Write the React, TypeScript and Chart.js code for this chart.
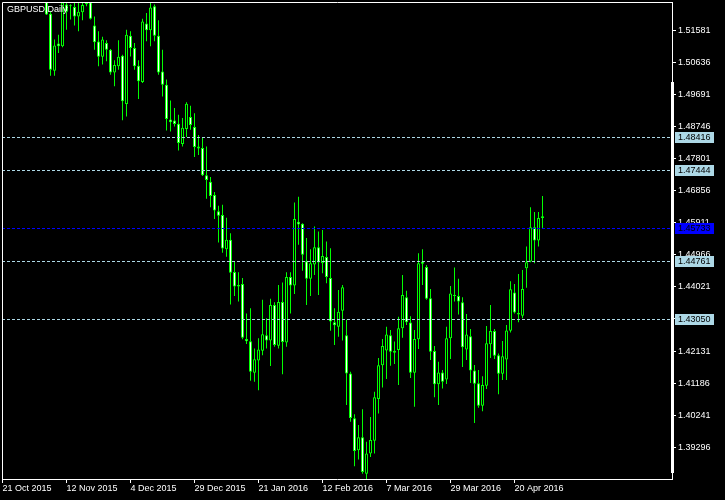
import React, { useEffect, useRef } from "react";
import { Chart, registerables } from "chart.js";

Chart.register(...registerables);

// ---------- DATA ----------
const chartTitle = "GBPUSD,Daily";

// Trading-day index of each bottom tick and its label
const xTickIndex = [0, 16, 32, 48, 64, 80, 96, 112, 128];
const xTickLabels = [
  "21 Oct 2015",
  "12 Nov 2015",
  "4 Dec 2015",
  "29 Dec 2015",
  "21 Jan 2016",
  "12 Feb 2016",
  "7 Mar 2016",
  "29 Mar 2016",
  "20 Apr 2016",
];

const yTickValues = [
  1.39296, 1.40241, 1.41186, 1.42131, 1.43076, 1.44021, 1.44966, 1.45911,
  1.46856, 1.47801, 1.48746, 1.49691, 1.50636, 1.51581,
];

// Daily OHLC, index 0 = 21 Oct 2015 (first 11 days lie above the visible range)
const N0 = [null, null, null, null, null, null, null, null, null, null, null];
const opens: (number | null)[] = [
  ...N0,
  1.5255, 1.5207, 1.5039, 1.5119, 1.5111, 1.5234, 1.5229, 1.5227, 1.5199,
  1.5211, 1.5235, 1.5241, 1.5172, 1.5125, 1.508, 1.5121, 1.5101, 1.5034, 1.5052,
  1.5083, 1.4941, 1.5142, 1.5106, 1.5054, 1.5006, 1.5178, 1.5158, 1.5229, 1.5142,
  1.5037, 1.4998, 1.4895, 1.4892, 1.4883, 1.4823, 1.4867, 1.4903, 1.4873, 1.4816,
  1.4811, 1.4731, 1.4712, 1.4673, 1.4625, 1.4614, 1.4513, 1.4541, 1.4446, 1.4408,
  1.4411, 1.4249, 1.4242, 1.4149, 1.4185, 1.4214, 1.426, 1.4244, 1.4349, 1.4229,
  1.4358, 1.4238, 1.4431, 1.4406, 1.4594, 1.4588, 1.4478, 1.4426, 1.4468, 1.4519,
  1.4472, 1.449, 1.4428, 1.4298, 1.4285, 1.4332, 1.426, 1.4147, 1.4015, 1.3921,
  1.3959, 1.3852, 1.3911, 1.3949, 1.4072, 1.4171, 1.4215, 1.426, 1.4214, 1.4216,
  1.428, 1.4372, 1.4297, 1.4149, 1.4248, 1.4477, 1.4461, 1.4369, 1.4213, 1.4115,
  1.415, 1.4129, 1.4251, 1.4378, 1.4375, 1.4357, 1.4218, 1.4257, 1.4156, 1.4118,
  1.4052, 1.4111, 1.4233, 1.4272, 1.4201, 1.4146, 1.4188, 1.4273, 1.4386, 1.4325,
  1.4317, 1.4457, 1.4477, 1.4578, 1.4539, 1.4605,
];
const highs: (number | null)[] = [
  ...N0,
  1.5263, 1.5213, 1.5131, 1.5145, 1.5252, 1.5243, 1.5235, 1.5239, 1.5239,
  1.5239, 1.5246, 1.5244, 1.5199, 1.5155, 1.5139, 1.5129, 1.5103, 1.507, 1.5129,
  1.5086, 1.516, 1.5155, 1.5121, 1.507, 1.5192, 1.5209, 1.5241, 1.5234, 1.5188,
  1.5101, 1.5013, 1.4951, 1.4929, 1.4909, 1.49, 1.4946, 1.4936, 1.4914, 1.485,
  1.4844, 1.4816, 1.4726, 1.4682, 1.4641, 1.4644, 1.4606, 1.456, 1.4477, 1.4445,
  1.4428, 1.4324, 1.4339, 1.4221, 1.4251, 1.4364, 1.431, 1.4367, 1.4357, 1.4408,
  1.4415, 1.4445, 1.4445, 1.4651, 1.4668, 1.459, 1.4546, 1.4513, 1.458, 1.4565,
  1.457, 1.4536, 1.4516, 1.4339, 1.4393, 1.4408, 1.4305, 1.4152, 1.4027, 1.3995,
  1.4042, 1.3946, 1.4019, 1.4093, 1.4193, 1.4249, 1.4285, 1.4275, 1.4241, 1.4314,
  1.4437, 1.4391, 1.4316, 1.4275, 1.4501, 1.4513, 1.4467, 1.4396, 1.4228, 1.4182,
  1.4157, 1.4285, 1.4405, 1.4459, 1.4426, 1.4372, 1.4322, 1.4278, 1.4172, 1.4157,
  1.4139, 1.4287, 1.4349, 1.4278, 1.4206, 1.4243, 1.429, 1.4419, 1.4411, 1.444,
  1.4452, 1.4521, 1.4637, 1.4623, 1.4623, 1.467,
];
const lows: (number | null)[] = [
  ...N0,
  1.5203, 1.5024, 1.5024, 1.5091, 1.5108, 1.516, 1.519, 1.5172, 1.5155,
  1.5188, 1.5229, 1.519, 1.5101, 1.5052, 1.5057, 1.5067, 1.5027, 1.4993, 1.5042,
  1.4893, 1.4904, 1.5081, 1.5042, 1.4956, 1.5003, 1.5126, 1.5111, 1.5126, 1.5027,
  1.4963, 1.4863, 1.486, 1.4875, 1.4804, 1.4816, 1.4844, 1.4865, 1.4785, 1.4791,
  1.4729, 1.4662, 1.4637, 1.4602, 1.4533, 1.4503, 1.4491, 1.435, 1.4375, 1.4359,
  1.4248, 1.4234, 1.4126, 1.4123, 1.4098, 1.4201, 1.4221, 1.4169, 1.4226, 1.4221,
  1.4145, 1.4226, 1.4324, 1.4381, 1.4526, 1.445, 1.4349, 1.4375, 1.4437, 1.4378,
  1.4442, 1.4413, 1.4273, 1.4231, 1.4255, 1.4244, 1.4054, 1.4005, 1.3874, 1.3894,
  1.3852, 1.3835, 1.3901, 1.3911, 1.4029, 1.4106, 1.4131, 1.417, 1.4175, 1.4113,
  1.4252, 1.429, 1.4134, 1.4049, 1.4219, 1.4408, 1.4364, 1.4187, 1.4077, 1.4054,
  1.4103, 1.4116, 1.419, 1.4359, 1.4321, 1.4166, 1.4187, 1.4119, 1.4001, 1.4046,
  1.4036, 1.4101, 1.4193, 1.419, 1.4086, 1.4128, 1.4128, 1.4268, 1.4324, 1.4298,
  1.431, 1.44, 1.4475, 1.4472, 1.4521, 1.4575,
];
const closes: (number | null)[] = [
  ...N0,
  1.5205, 1.5042, 1.5113, 1.5111, 1.524, 1.5213, 1.5231, 1.5199, 1.5213,
  1.5233, 1.5241, 1.5192, 1.5123, 1.508, 1.5131, 1.5101, 1.5034, 1.5056, 1.508,
  1.4949, 1.5145, 1.5106, 1.5052, 1.5008, 1.5184, 1.5158, 1.5225, 1.5142, 1.5034,
  1.4998, 1.4897, 1.4887, 1.4882, 1.4826, 1.4871, 1.4942, 1.4879, 1.4814, 1.481,
  1.4731, 1.4717, 1.467, 1.4627, 1.4612, 1.4515, 1.4541, 1.4444, 1.4403, 1.4403,
  1.4252, 1.4242, 1.4152, 1.4189, 1.4218, 1.4263, 1.4244, 1.4349, 1.4231, 1.4358,
  1.424, 1.4431, 1.4406, 1.4602, 1.4586, 1.4497, 1.4426, 1.4472, 1.4519, 1.4474,
  1.4493, 1.4431, 1.43, 1.4289, 1.4329, 1.4401, 1.4147, 1.4016, 1.3919, 1.3959,
  1.3857, 1.3911, 1.3951, 1.4077, 1.4171, 1.4228, 1.4262, 1.4211, 1.4208, 1.428,
  1.4378, 1.4298, 1.4149, 1.4249, 1.4472, 1.447, 1.4367, 1.4211, 1.4115, 1.415,
  1.4123, 1.4251, 1.4383, 1.4375, 1.4359, 1.4224, 1.4262, 1.4156, 1.4117, 1.4052,
  1.4113, 1.4236, 1.4272, 1.4199, 1.4146, 1.4198, 1.4274, 1.4395, 1.4327, 1.4321,
  1.4396, 1.4475, 1.4578, 1.4539, 1.4605, 1.461,
];

// Horizontal price levels
const levelLines = [1.48416, 1.47444, 1.44761, 1.4305];
const bidLine = 1.45733;

// ---------- STYLE ----------
const GREEN = "#00ff00";
const LEVEL_COLOR = "#add8e6";
const BID_COLOR = "#0000ff";
const FONT_FAMILY = "'Liberation Sans', Arial, sans-serif";
const FONT = { family: FONT_FAMILY, size: 9 };

export default function App() {
  const ref = useRef<HTMLCanvasElement | null>(null);

  useEffect(() => {
    document.body.style.margin = "0";
    document.body.style.background = "#000";
    const canvas = ref.current;
    if (!canvas) return;

    const idx = opens.map((_, i) => i).filter((i) => opens[i] != null);
    const wickData = idx.map((i) => ({ x: i, y: [lows[i] as number, highs[i] as number] }));
    const bodyData = idx.map((i) => {
      const o = opens[i] as number;
      const c = closes[i] as number;
      return { x: i, y: [Math.min(o, c), Math.max(o, c)] };
    });
    const bodyFill = idx.map((i) =>
      (closes[i] as number) < (opens[i] as number) ? "#ffffff" : "#000000"
    );

    const decor = {
      id: "mtDecor",
      beforeDraw(chart: any) {
        const ctx = chart.ctx;
        ctx.save();
        ctx.fillStyle = "#000";
        ctx.fillRect(0, 0, chart.width, chart.height);
        ctx.restore();
      },
      afterDatasetsDraw(chart: any) {
        const ctx = chart.ctx;
        const ys = chart.scales.y;
        const { left, right } = chart.chartArea;
        ctx.save();
        ctx.lineWidth = 1;
        ctx.setLineDash([3, 2]);
        const drawLine = (v: number, color: string) => {
          const y = Math.floor(ys.getPixelForValue(v)) + 0.5;
          ctx.strokeStyle = color;
          ctx.beginPath();
          ctx.moveTo(left, y);
          ctx.lineTo(right, y);
          ctx.stroke();
        };
        levelLines.forEach((v) => drawLine(v, LEVEL_COLOR));
        drawLine(bidLine, BID_COLOR);
        ctx.restore();
      },
      afterDraw(chart: any) {
        const ctx = chart.ctx;
        const ys = chart.scales.y;
        const { left, top, right, bottom } = chart.chartArea;
        ctx.save();
        // frame
        ctx.strokeStyle = "#ffffff";
        ctx.lineWidth = 1;
        ctx.setLineDash([]);
        ctx.beginPath();
        ctx.moveTo(left + 0.5, bottom);
        ctx.lineTo(left + 0.5, top + 0.5);
        ctx.lineTo(right + 0.5, top + 0.5);
        ctx.stroke();
        // thick marker on right edge
        ctx.fillStyle = "#ffffff";
        ctx.fillRect(right - 1, 82, 3, 391);
        // level labels
        ctx.font = `9px ${FONT_FAMILY}`;
        ctx.textBaseline = "middle";
        ctx.textAlign = "left";
        const drawLabel = (v: number, bg: string) => {
          const row = Math.floor(ys.getPixelForValue(v));
          ctx.fillStyle = bg;
          ctx.fillRect(right + 3, row - 5, 39, 11);
          ctx.fillStyle = "#000000";
          ctx.fillText(v.toFixed(5), right + 6, row + 1);
        };
        levelLines.forEach((v) => drawLabel(v, LEVEL_COLOR));
        drawLabel(bidLine, BID_COLOR);
        // title
        ctx.fillStyle = "#ffffff";
        ctx.fillText(chartTitle, 7, 10);
        ctx.restore();
      },
    };

    const chart = new Chart(canvas, {
      type: "bar",
      data: {
        datasets: [
          {
            label: "wick",
            data: wickData as any,
            backgroundColor: GREEN,
            borderWidth: 0,
            barThickness: 1,
            grouped: false,
            inflateAmount: 0,
            minBarLength: 1,
            order: 2,
          } as any,
          {
            label: "body",
            data: bodyData as any,
            backgroundColor: bodyFill,
            borderColor: GREEN,
            borderWidth: 1,
            borderSkipped: false,
            barThickness: 3,
            grouped: false,
            inflateAmount: 0,
            minBarLength: 1,
            order: 1,
          } as any,
        ],
      },
      options: {
        responsive: false,
        maintainAspectRatio: false,
        animation: false,
        events: [],
        layout: { padding: { left: 2, top: 2, right: 0, bottom: 0 } },
        plugins: {
          legend: { display: false },
          tooltip: { enabled: false },
          title: { display: false },
        },
        scales: {
          x: {
            type: "linear",
            position: "bottom",
            min: -0.125,
            max: 167.375,
            offset: false,
            grid: {
              display: true,
              offset: false,
              drawOnChartArea: false,
              drawTicks: true,
              tickLength: 4,
              color: "#ffffff",
              lineWidth: 1,
            },
            border: { display: true, color: "#ffffff", width: 1 },
            ticks: {
              color: "#ffffff",
              font: FONT,
              padding: 0,
              align: "start",
              autoSkip: false,
              maxRotation: 0,
              minRotation: 0,
              callback: (v: any) => {
                const k = xTickIndex.indexOf(Number(v));
                return k >= 0 ? xTickLabels[k] : "";
              },
            },
            afterBuildTicks: (s: any) => {
              s.ticks = xTickIndex.map((v) => ({ value: v }));
            },
            afterFit: (s: any) => {
              s.height = 21;
              s.paddingLeft = 0;
              s.paddingRight = 0;
              s.paddingTop = 0;
              s.paddingBottom = 0;
            },
          } as any,
          y: {
            type: "linear",
            position: "right",
            min: 1.383621,
            max: 1.524147,
            grid: {
              display: true,
              drawOnChartArea: false,
              drawTicks: true,
              tickLength: 4,
              color: "#ffffff",
              lineWidth: 1,
            },
            border: { display: true, color: "#ffffff", width: 1 },
            ticks: {
              color: "#ffffff",
              font: FONT,
              padding: 2,
              autoSkip: false,
              callback: (v: any) => Number(v).toFixed(5),
            },
            afterBuildTicks: (s: any) => {
              s.ticks = yTickValues.map((v) => ({ value: v }));
            },
            afterFit: (s: any) => {
              s.width = 53;
              s.paddingLeft = 0;
              s.paddingRight = 0;
              s.paddingTop = 0;
              s.paddingBottom = 0;
            },
          } as any,
        },
      },
      plugins: [decor],
    });

    return () => chart.destroy();
  }, []);

  return (
    <div style={{ width: 725, height: 500, background: "#000" }}>
      <canvas ref={ref} width={725} height={500} style={{ display: "block" }} />
    </div>
  );
}
